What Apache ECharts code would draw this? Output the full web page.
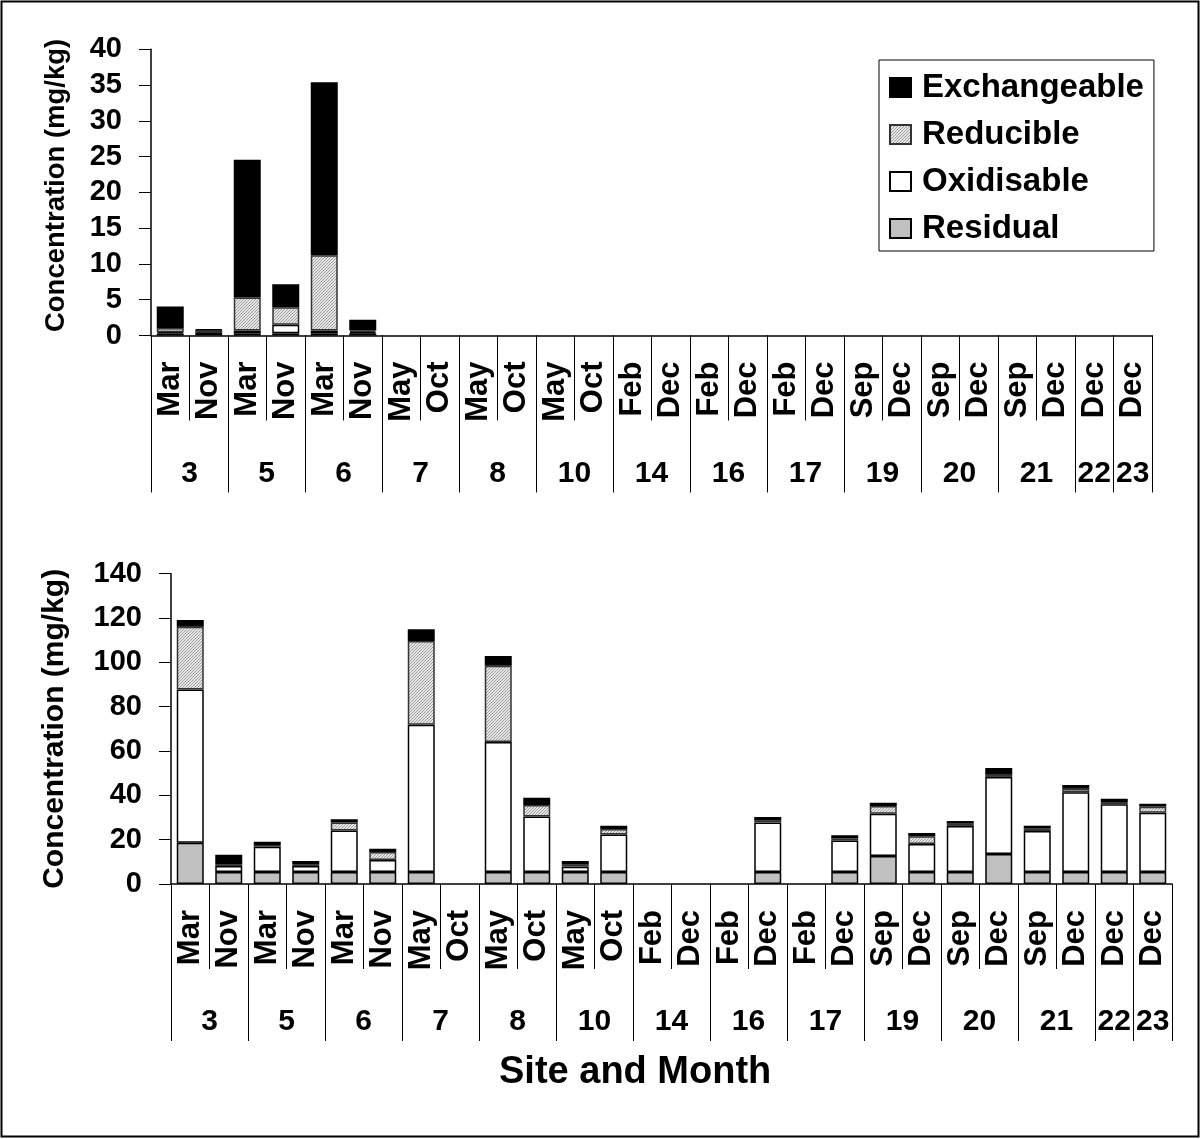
<!DOCTYPE html>
<html><head><meta charset="utf-8">
<script src="https://cdn.jsdelivr.net/npm/echarts@6/dist/echarts.min.js"></script>
<style>html,body{margin:0;padding:0;background:#fff}#c{width:1201px;height:1139px}</style>
</head><body><div id="c"></div>
<script>
// ---------- data ----------
const months = ['Mar','Nov','Mar','Nov','Mar','Nov','May','Oct','May','Oct','May','Oct','Feb','Dec','Feb','Dec','Feb','Dec','Sep','Dec','Sep','Dec','Sep','Dec','Dec','Dec'];
const sites = ['3','5','6','7','8','10','14','16','17','19','20','21','22','23'];
const siteMonthCounts = [2,2,2,2,2,2,2,2,2,2,2,2,1,1];
const legendOrder = ['Exchangeable','Reducible','Oxidisable','Residual'];
const topYTicks = [0,5,10,15,20,25,30,35,40];
const bottomYTicks = [0,20,40,60,80,100,120,140];

// top chart (mg/kg)
const topResidual     = [0.28,0.25,0.3,0.3,0.3,0.3,0,0,0,0,0,0,0,0,0,0,0,0,0,0,0,0,0,0,0,0];
const topOxidisable   = [0.18,0.1,0.4,1.2,0.4,0.2,0,0,0,0,0,0,0,0,0,0,0,0,0,0,0,0,0,0,0,0];
const topReducible    = [0.6,0.4,4.6,2.45,10.5,0.2,0,0,0,0,0,0,0,0,0,0,0,0,0,0,0,0,0,0,0,0];
const topExchangeable = [3.0,0.1,19.25,3.2,24.2,1.5,0,0,0,0,0,0,0,0,0,0,0,0,0,0,0,0,0,0,0,0];

// bottom chart (mg/kg)
const botResidual     = [18.6,5.4,5.4,5.4,5.4,5.4,5.4,0,5.4,5.4,5.4,5.4,0,0,0,5.4,0,5.4,12.6,5.4,5.4,13.5,5.4,5.4,5.4,5.4];
const botOxidisable   = [69.2,2.7,11.4,2.7,18.7,5.4,66.5,0,58.7,25.1,2.4,16.9,0,0,0,22.4,0,14.2,19.1,12.6,20.8,34.8,18.5,36.0,30.6,26.8];
const botReducible    = [28.3,0.9,0.8,0.9,3.6,3.6,37.7,0,34.4,5.1,1.2,2.5,0,0,0,0.9,0,0.9,3.5,3.5,1.0,1.0,1.1,1.6,1.0,2.7];
const botExchangeable = [3.0,4.2,1.5,1.4,1.5,1.5,5.3,0,4.4,3.3,1.4,1.5,0,0,0,1.5,0,1.5,1.5,1.5,1.2,3.0,1.3,1.7,1.5,1.3];

// ---------- styling helpers ----------
const FONT = 'Liberation Sans, Arial, sans-serif';
function hatch(){
  const c = document.createElement('canvas'); c.width = 3; c.height = 3;
  const g = c.getContext('2d');
  g.fillStyle = '#e8e8e8'; g.fillRect(0,0,3,3);
  g.fillStyle = '#9a9a9a';
  for (let i=0;i<3;i++) g.fillRect(i,2-i,1,1);
  return c;
}
const hatchImg = hatch();
const styles = {
  Exchangeable: {color:'#000000', borderColor:'#000', borderWidth:1.5},
  Reducible:    {color:{image:hatchImg, repeat:'repeat'}, borderColor:'#333', borderWidth:1.5},
  Oxidisable:   {color:'#ffffff', borderColor:'#000', borderWidth:1.5},
  Residual:     {color:'#c0c0c0', borderColor:'#000', borderWidth:1.5}
};
const nz = arr => arr.map(v => v === 0 ? null : v);

// site-level axis (half-month steps)
const nHalf = months.length*2 + 1;
const siteLabelAt = {}; const siteBounds = new Set();
(function(){ let s = 0; sites.forEach((name,i)=>{ siteBounds.add(2*s); siteLabelAt[2*s+siteMonthCounts[i]] = name; s += siteMonthCounts[i]; }); siteBounds.add(2*s); })();
const halfKeys = Array.from({length:nHalf}, (_,i)=>'k'+i);

function monthAxis(gridIndex){
  return {
    type:'category', gridIndex, position:'bottom', data: months,
    axisLine:{show:true, lineStyle:{color:'#000', width:1.5}},
    axisTick:{show:true, length:85, lineStyle:{color:'#000', width:1}},
    axisLabel:{interval:0, rotate:90, margin:26, color:'#000', fontSize:31, fontWeight:'bold', fontFamily:FONT},
    splitLine:{show:false}
  };
}
function siteAxis(gridIndex){
  return {
    type:'category', gridIndex, position:'bottom', boundaryGap:false, data: halfKeys,
    axisLine:{show:false},
    axisTick:{show:true, length:157, interval:(i)=>siteBounds.has(i), lineStyle:{color:'#000', width:1}},
    axisLabel:{interval:(i)=>siteLabelAt[i] !== undefined, formatter:(v,i)=>siteLabelAt[i]||'', margin:123,
      color:'#000', fontSize:30, fontWeight:'bold', fontFamily:FONT},
    splitLine:{show:false}
  };
}
function yAxis(gridIndex, ticks, gap){
  return {
    type:'value', gridIndex, min:ticks[0], max:ticks[ticks.length-1], interval:ticks[1]-ticks[0],
    name:'Concentration (mg/kg)', nameLocation:'middle', nameGap:gap,
    nameTextStyle:{color:'#000', fontSize: gridIndex===0?27.5:30, fontWeight:'bold', fontFamily:FONT,
      padding: gridIndex===0?[0,0,0,14]:0},
    axisLine:{show:true, lineStyle:{color:'#000', width:1.5}},
    axisTick:{show:true, inside:false, length:12, lineStyle:{color:'#000', width:1}},
    axisLabel:{margin:29, color:'#000', fontSize:29, fontWeight:'bold', fontFamily:FONT},
    splitLine:{show:false}
  };
}
function bars(name, data, xi, yi, stack){
  return {type:'bar', name, data:nz(data), xAxisIndex:xi, yAxisIndex:yi, stack, barWidth:27,
    itemStyle:styles[name], emphasis:{disabled:true}, animation:false};
}

const option = {
  animation:false,
  title:{text:'Site and Month', left:494, top:1049,
    textStyle:{color:'#000', fontSize:38, fontWeight:'bold', fontFamily:FONT}},
  legend:{data:legendOrder, orient:'vertical', left:879, top:60, padding:[10,10,5,10],
    itemWidth:21, itemHeight:19, itemGap:12, icon:'rect', borderColor:'#000', borderWidth:1,
    selectedMode:false,
    textStyle:{color:'#000', fontSize:33, fontWeight:'bold', fontFamily:FONT, lineHeight:35, padding:[0,0,0,6]}},
  grid:[
    {left:151, top:49.3, width:1001, height:286.2, outerBoundsMode:'none'},
    {left:171, top:573.7, width:1001, height:310.3, outerBoundsMode:'none'}
  ],
  xAxis:[monthAxis(0), siteAxis(0), monthAxis(1), siteAxis(1)],
  yAxis:[yAxis(0, topYTicks, 81), yAxis(1, bottomYTicks, 101)],
  series:[
    bars('Residual', topResidual, 0, 0, 't'),
    bars('Oxidisable', topOxidisable, 0, 0, 't'),
    bars('Reducible', topReducible, 0, 0, 't'),
    bars('Exchangeable', topExchangeable, 0, 0, 't'),
    bars('Residual', botResidual, 2, 1, 'b'),
    bars('Oxidisable', botOxidisable, 2, 1, 'b'),
    bars('Reducible', botReducible, 2, 1, 'b'),
    bars('Exchangeable', botExchangeable, 2, 1, 'b')
  ],
  graphic:[{type:'rect', shape:{x:1.5, y:1.5, width:1197, height:1135}, style:{fill:'none', stroke:'#000', lineWidth:2}, silent:true}]
};
const chart = echarts.init(document.getElementById('c'));
chart.setOption(option);
</script></body></html>
